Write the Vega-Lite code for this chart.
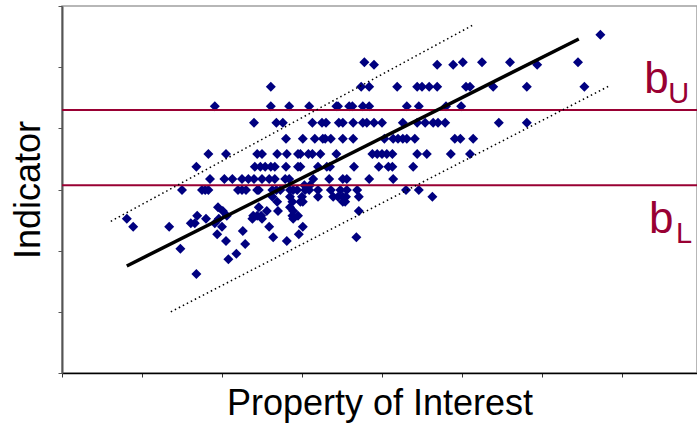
{
  "$schema": "https://vega.github.io/schema/vega-lite/v6.json",
  "width": 635,
  "height": 367,
  "autosize": {"type": "none"},
  "padding": {"left": 62, "top": 6, "right": 0, "bottom": 50},
  "background": "white",
  "config": {
    "view": {"stroke": "#a0a0a0", "strokeWidth": 1.5},
    "axis": {"grid": false, "labels": false, "titleFont": "Liberation Sans", "titleFontSize": 36, "titleFontWeight": "normal", "titleColor": "black", "tickSize": 4}
  },
  "datasets": {
    "points": [
      {"property":67.3,"indicator":55.3},
      {"property":37.8,"indicator":50.8},{"property":50.1,"indicator":50.8},{"property":52.5,"indicator":50.8},{"property":56.0,"indicator":50.8},{"property":64.5,"indicator":50.8},
      {"property":39.0,"indicator":50.4},{"property":46.9,"indicator":50.4},{"property":48.9,"indicator":50.4},{"property":59.4,"indicator":50.4},
      {"property":26.1,"indicator":46.8},{"property":37.4,"indicator":46.8},{"property":38.4,"indicator":46.8},{"property":41.9,"indicator":46.8},{"property":44.4,"indicator":46.8},{"property":45.0,"indicator":46.8},{"property":45.9,"indicator":46.8},{"property":46.9,"indicator":46.8},{"property":50.5,"indicator":46.8},{"property":51.0,"indicator":46.8},{"property":53.9,"indicator":46.8},{"property":58.1,"indicator":46.8},{"property":65.3,"indicator":46.8},
      {"property":19.1,"indicator":43.6},{"property":26.1,"indicator":43.6},{"property":28.4,"indicator":43.6},{"property":30.9,"indicator":43.6},{"property":34.3,"indicator":43.6},{"property":34.5,"indicator":43.6},{"property":35.9,"indicator":43.6},{"property":36.3,"indicator":43.6},{"property":37.6,"indicator":43.6},{"property":38.4,"indicator":43.6},{"property":43.1,"indicator":43.6},{"property":44.6,"indicator":43.6},{"property":48.0,"indicator":43.6},{"property":49.9,"indicator":43.6},
      {"property":24.0,"indicator":40.9},{"property":26.8,"indicator":40.9},{"property":27.6,"indicator":40.9},{"property":31.3,"indicator":40.9},{"property":32.5,"indicator":40.9},{"property":33.0,"indicator":40.9},{"property":34.6,"indicator":40.9},{"property":35.1,"indicator":40.9},{"property":36.4,"indicator":40.9},{"property":37.6,"indicator":40.9},{"property":38.1,"indicator":40.9},{"property":39.0,"indicator":40.9},{"property":40.0,"indicator":40.9},{"property":42.6,"indicator":40.9},{"property":44.4,"indicator":40.9},{"property":45.4,"indicator":40.9},{"property":46.4,"indicator":40.9},{"property":47.0,"indicator":40.9},{"property":47.9,"indicator":40.9},{"property":54.6,"indicator":40.9},{"property":58.1,"indicator":40.9},
      {"property":28.0,"indicator":38.3},{"property":30.1,"indicator":38.3},{"property":31.6,"indicator":38.3},{"property":32.6,"indicator":38.3},{"property":32.9,"indicator":38.3},{"property":33.6,"indicator":38.3},{"property":35.1,"indicator":38.3},{"property":36.4,"indicator":38.3},{"property":40.3,"indicator":38.3},{"property":41.4,"indicator":38.3},{"property":42.0,"indicator":38.3},{"property":42.6,"indicator":38.3},{"property":43.1,"indicator":38.3},{"property":44.1,"indicator":38.3},{"property":49.1,"indicator":38.3},{"property":49.8,"indicator":38.3},{"property":51.4,"indicator":38.3},
      {"property":18.3,"indicator":35.8},{"property":20.5,"indicator":35.8},{"property":24.4,"indicator":35.8},{"property":25.0,"indicator":35.8},{"property":26.9,"indicator":35.8},{"property":28.1,"indicator":35.8},{"property":29.5,"indicator":35.8},{"property":29.8,"indicator":35.8},{"property":30.8,"indicator":35.8},{"property":31.3,"indicator":35.8},{"property":32.3,"indicator":35.8},{"property":34.3,"indicator":35.8},{"property":38.8,"indicator":35.8},{"property":39.4,"indicator":35.8},{"property":40.0,"indicator":35.8},{"property":40.6,"indicator":35.8},{"property":41.3,"indicator":35.8},{"property":44.4,"indicator":35.8},{"property":45.6,"indicator":35.8},{"property":48.6,"indicator":35.8},{"property":51.0,"indicator":35.8},
      {"property":16.8,"indicator":33.7},{"property":24.1,"indicator":33.7},{"property":24.8,"indicator":33.7},{"property":25.4,"indicator":33.7},{"property":26.1,"indicator":33.7},{"property":26.6,"indicator":33.7},{"property":28.0,"indicator":33.7},{"property":29.5,"indicator":33.7},{"property":29.8,"indicator":33.7},{"property":32.0,"indicator":33.7},{"property":33.1,"indicator":33.7},{"property":33.5,"indicator":33.7},{"property":36.5,"indicator":33.7},{"property":39.6,"indicator":33.7},{"property":40.8,"indicator":33.7},{"property":41.3,"indicator":33.7},{"property":43.9,"indicator":33.7},
      {"property":18.5,"indicator":31.7},{"property":20.3,"indicator":31.7},{"property":21.3,"indicator":31.7},{"property":22.5,"indicator":31.7},{"property":23.3,"indicator":31.7},{"property":24.0,"indicator":31.7},{"property":25.0,"indicator":31.7},{"property":25.9,"indicator":31.7},{"property":26.6,"indicator":31.7},{"property":27.9,"indicator":31.7},{"property":28.4,"indicator":31.7},{"property":31.4,"indicator":31.7},{"property":33.4,"indicator":31.7},{"property":35.1,"indicator":31.7},{"property":35.6,"indicator":31.7},{"property":38.4,"indicator":31.7},{"property":41.4,"indicator":31.7},
      {"property":30.3,"indicator":30.7},{"property":31.0,"indicator":30.7},
      {"property":15.0,"indicator":29.9},{"property":17.5,"indicator":29.9},{"property":17.9,"indicator":29.9},{"property":18.3,"indicator":29.9},{"property":22.0,"indicator":29.9},{"property":22.5,"indicator":29.9},{"property":23.0,"indicator":29.9},{"property":24.4,"indicator":29.9},{"property":24.6,"indicator":29.9},{"property":26.3,"indicator":29.9},{"property":26.8,"indicator":29.9},{"property":27.3,"indicator":29.9},{"property":28.5,"indicator":29.9},{"property":28.9,"indicator":29.9},{"property":29.4,"indicator":29.9},{"property":30.4,"indicator":29.9},{"property":30.9,"indicator":29.9},{"property":32.0,"indicator":29.9},{"property":33.6,"indicator":29.9},{"property":34.8,"indicator":29.9},{"property":35.6,"indicator":29.9},{"property":36.9,"indicator":29.9},{"property":43.0,"indicator":29.9},{"property":44.6,"indicator":29.9},
      {"property":26.3,"indicator":28.8},{"property":28.5,"indicator":28.8},{"property":30.0,"indicator":28.8},{"property":32.0,"indicator":28.8},{"property":33.9,"indicator":28.8},{"property":34.5,"indicator":28.8},{"property":35.1,"indicator":28.8},{"property":35.5,"indicator":28.8},{"property":37.1,"indicator":28.8},{"property":46.3,"indicator":28.8},
      {"property":26.9,"indicator":28.0},{"property":28.8,"indicator":28.0},{"property":29.8,"indicator":28.0},{"property":30.1,"indicator":28.0},{"property":35.1,"indicator":28.0},{"property":35.4,"indicator":28.0},
      {"property":19.5,"indicator":27.1},{"property":24.6,"indicator":27.1},{"property":28.5,"indicator":27.1},
      {"property":20.1,"indicator":26.5},{"property":25.6,"indicator":26.5},{"property":27.0,"indicator":26.5},{"property":28.9,"indicator":26.5},{"property":37.1,"indicator":26.5},
      {"property":16.9,"indicator":25.7},{"property":20.6,"indicator":25.7},{"property":23.9,"indicator":25.7},{"property":24.4,"indicator":25.7},{"property":24.9,"indicator":25.7},{"property":28.8,"indicator":25.7},{"property":29.5,"indicator":25.7},
      {"property":8.1,"indicator":25.2},{"property":18.0,"indicator":25.2},{"property":19.6,"indicator":25.2},{"property":23.8,"indicator":25.2},{"property":25.0,"indicator":25.2},{"property":28.9,"indicator":25.2},
      {"property":16.1,"indicator":24.5},{"property":16.6,"indicator":24.5},{"property":19.1,"indicator":24.5},
      {"property":8.9,"indicator":23.9},{"property":13.4,"indicator":23.9},{"property":20.0,"indicator":23.9},{"property":25.9,"indicator":23.9},{"property":30.1,"indicator":23.9},
      {"property":22.6,"indicator":23.2},
      {"property":19.4,"indicator":22.7},{"property":29.6,"indicator":22.7},
      {"property":26.4,"indicator":22.2},{"property":36.8,"indicator":22.2},
      {"property":20.5,"indicator":21.6},{"property":28.1,"indicator":21.6},
      {"property":22.9,"indicator":21.1},
      {"property":14.8,"indicator":20.3},
      {"property":21.8,"indicator":19.5},
      {"property":20.8,"indicator":18.6},
      {"property":16.8,"indicator":16.2}
    ],
    "fit": [
      {"property":8.1,"indicator":17.5},
      {"property":64.6,"indicator":54.6}
    ],
    "band": [
      {"edge":"upper","property":6.1,"indicator":24.8},
      {"edge":"upper","property":51.6,"indicator":57.05},
      {"edge":"lower","property":13.6,"indicator":10.0},
      {"edge":"lower","property":68.5,"indicator":47.0}
    ],
    "bounds": [
      {"bound":"bU","indicator":43.0},
      {"bound":"bL","indicator":30.7}
    ],
    "mainLabels": [
      {"text":"b","property":74.3,"indicator":45.8},
      {"text":"b","property":74.9,"indicator":22.9}
    ],
    "subLabels": [
      {"text":"U","property":77.1,"indicator":44.1},
      {"text":"L","property":77.75,"indicator":21.25}
    ]
  },
  "encoding": {
    "x": {"field":"property","type":"quantitative","scale":{"domain":[0,79.375],"nice":false,"zero":false},
      "axis":{"title":"Property of Interest","values":[0,10,20,30,40,50,60,70],"domainColor":"black","domainWidth":1.5,"tickColor":"#333","titlePadding":9}},
    "y": {"field":"indicator","type":"quantitative","scale":{"domain":[0,60],"nice":false,"zero":false},
      "axis":{"title":"Indicator","values":[0,10,20,30,40,50,60],"domainColor":"#555","domainWidth":2,"tickColor":"#555","titlePadding":10}}
  },
  "layer": [
    {"data":{"name":"points"},"mark":{"type":"point","shape":"diamond","filled":true,"color":"#000080","size":100,"opacity":1}},
    {"data":{"name":"bounds"},"mark":{"type":"rule","color":"#990033","strokeWidth":2},"encoding":{"x":null,"y":{"field":"indicator","type":"quantitative"}}},
    {"data":{"name":"band"},"mark":{"type":"line","color":"black","strokeWidth":1.5,"strokeDash":[1.5,3]},"encoding":{"detail":{"field":"edge"}}},
    {"data":{"name":"fit"},"mark":{"type":"line","color":"black","strokeWidth":3.5}},
    {"data":{"name":"mainLabels"},"mark":{"type":"text","font":"Liberation Sans","fontSize":44,"color":"#990033","align":"center","baseline":"alphabetic"},"encoding":{"text":{"field":"text"}}},
    {"data":{"name":"subLabels"},"mark":{"type":"text","font":"Liberation Sans","fontSize":29,"color":"#990033","align":"center","baseline":"alphabetic"},"encoding":{"text":{"field":"text"}}}
  ]
}
